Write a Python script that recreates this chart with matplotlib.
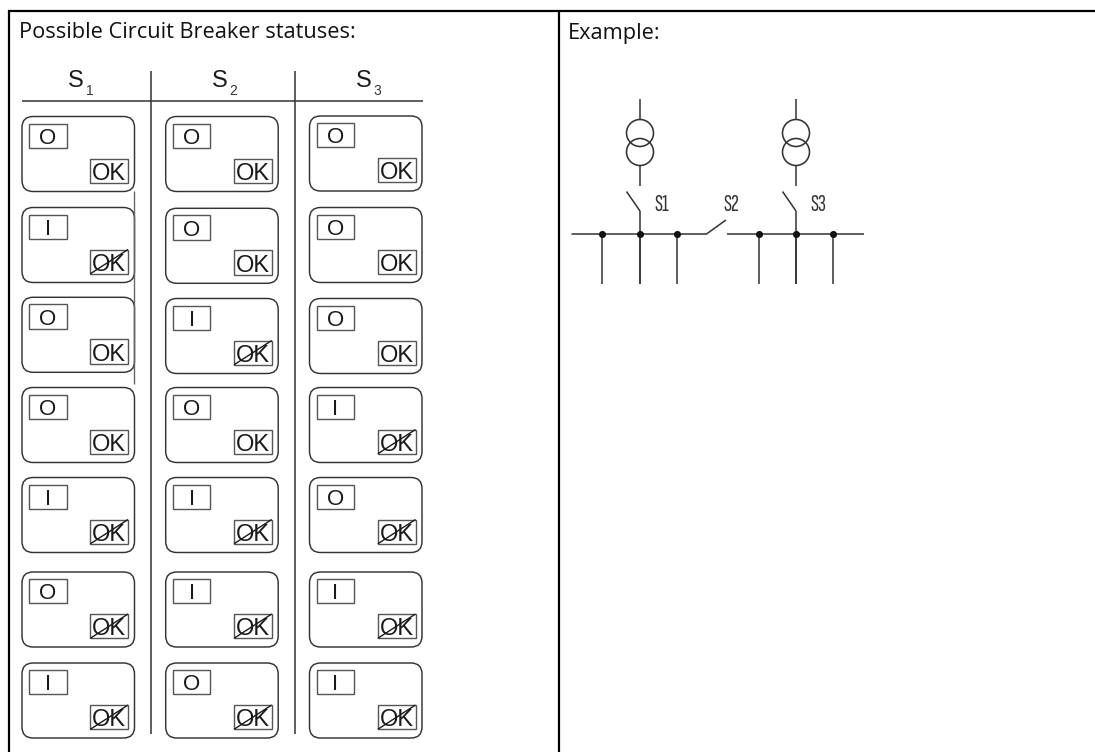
import matplotlib
matplotlib.use("Agg")
import matplotlib.pyplot as plt
from matplotlib.patches import FancyBboxPatch, Rectangle, Circle

title_left = "Possible Circuit Breaker statuses:"
title_right = "Example:"
col_names = ["S", "S", "S"]
col_subs = ["1", "2", "3"]
col_lefts = [22, 165.7, 309.5]
row_tops = [
    [116.5, 207.5, 297.3, 387.5, 477.5, 572, 663],
    [116.5, 208.3, 298.5, 387.5, 477.5, 572, 663],
    [116, 207.5, 298.5, 387.5, 477.5, 572, 663],
]
s1_state = ["O", "I", "O", "O", "I", "O", "I"]
s2_state = ["O", "O", "I", "O", "I", "I", "O"]
s3_state = ["O", "O", "O", "I", "O", "I", "I"]
s1_ok = [True, False, True, True, False, False, False]
s2_ok = [True, True, False, True, False, False, False]
s3_ok = [True, True, True, False, False, False, False]
states = [s1_state, s2_state, s3_state]
oks = [s1_ok, s2_ok, s3_ok]

transformer_x = [640, 796]
node_x = [602, 640, 677, 758.5, 796, 833]
switch_labels = [("S1", 654), ("S2", 723), ("S3", 810)]

W, H = 1095, 752
fig = plt.figure(figsize=(W / 100, H / 100), dpi=100, facecolor="white")
ax = fig.add_axes([0, 0, 1, 1])
ax.set_xlim(0, W)
ax.set_ylim(H, 0)
ax.axis("off")

INK = "#1a1a1a"
GREY = "#333333"
BOX = "#555555"
ARIAL = "Liberation Sans"


def line(xs, ys, lw=1.0, c=GREY, **kw):
    ax.plot(xs, ys, color=c, lw=lw, solid_capstyle="butt", **kw)


# frame
line([8, W], [11, 11], lw=1.6, c="black")
line([9, 9], [10, H], lw=1.6, c="black")
line([559, 559], [11, H], lw=1.6, c="black")
ax.text(19, 38.5, title_left, fontsize=15.7, family="Open Sans", color="#111111", va="baseline")
ax.text(568, 38.5, title_right, fontsize=15.7, family="Open Sans", color="#111111", va="baseline")

# table rules
line([21.5, 422.5], [100.7, 100.7], lw=1.1)
line([150.5, 150.5], [71, 734], lw=1.1)
line([295, 295], [71, 734], lw=1.1)
line([134.3, 134.3], [191, 384], lw=1.0, c="#666666")

for j, left in enumerate(col_lefts):
    cx = left + 54
    ax.text(cx, 87, col_names[j], fontsize=17, family=ARIAL, color=INK, ha="center", va="baseline")
    ax.text(cx + 13.5, 95, col_subs[j], fontsize=10, family=ARIAL, color=GREY, ha="center", va="baseline")
    for i, top in enumerate(row_tops[j]):
        ax.add_patch(FancyBboxPatch((left, top), 112.5, 75,
                                    boxstyle="round,pad=0,rounding_size=11",
                                    fc="none", ec=GREY, lw=1.05))
        ax.add_patch(Rectangle((left + 7, top + 7), 37.5, 24.3, fc="none", ec=BOX, lw=1.0))
        ax.text(left + 26, top + 27.3, states[j][i], fontsize=16, family=ARIAL, color=INK,
                ha="center", va="baseline")
        ax.add_patch(Rectangle((left + 68.3, top + 42), 37.7, 24.3, fc="none", ec=BOX, lw=1.0))
        ax.text(left + 87.2, top + 63.3, "OK", fontsize=17, family=ARIAL, color=INK,
                ha="center", va="baseline")
        if not oks[j][i]:
            line([left + 68.3, left + 106], [top + 66.3, top + 42], lw=1.0, c=INK)

# schematic
for tx in transformer_x:
    line([tx, tx], [98.5, 120], lw=1.1)
    ax.add_patch(Circle((tx, 133), 13.5, fc="none", ec=GREY, lw=1.15))
    ax.add_patch(Circle((tx, 152), 13.5, fc="none", ec=GREY, lw=1.15))
    line([tx, tx], [165.5, 186], lw=1.1)
    line([tx - 13.5, tx], [191.5, 211], lw=1.1)
    line([tx, tx], [211, 284], lw=1.1)

line([571.5, 706.5, 726], [234, 234, 220], lw=1.1)
line([727, 864], [234, 234], lw=1.1)
for nx in node_x:
    line([nx, nx], [234, 284], lw=1.1)
ax.scatter(node_x, [234] * len(node_x), s=26, color="#111111", zorder=3, linewidths=0)

for label, x in switch_labels:
    ax.text(x, 211, label, fontsize=17, family=["Sofia Sans Extra Condensed", "DejaVu Sans"],
            color="#333333", ha="left", va="baseline")

fig.savefig("out.png", dpi=100, facecolor="white")
